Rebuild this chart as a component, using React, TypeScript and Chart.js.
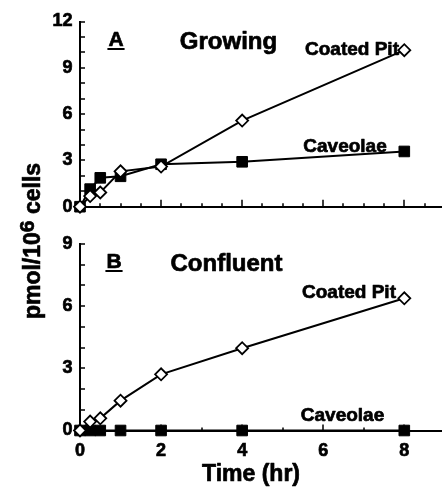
import React, { useEffect, useRef } from 'react';
import { Chart, registerables } from 'chart.js';

Chart.register(...registerables);

const FONT = "'Liberation Sans', Arial, Helvetica, sans-serif";

// ---- data ----
const times = [0, 0.25, 0.5, 1, 2, 4, 8];
const coatedPitGrowing = [0, 0.69, 0.92, 2.29, 2.6, 5.58, 10.14];
const caveolaeGrowing = [0, 1.14, 1.87, 1.97, 2.75, 2.91, 3.58];
const coatedPitConfluent = [0, 0.43, 0.59, 1.44, 2.71, 3.97, 6.38];
const caveolaeConfluent = [0, 0, 0, 0, 0, 0, 0];
const xTickLabels = [0, 2, 4, 6, 8];
const yTickLabelsGrowing = [0, 3, 6, 9, 12];
const yTickLabelsConfluent = [0, 3, 6, 9];

const X_MAX = 8.93;

type TextItem = { text: string; x: number; y: number; size: number; underline?: boolean };

function textPlugin(items: TextItem[]) {
  return {
    id: 'panelText',
    afterDraw(chart: any) {
      const ctx = chart.ctx;
      ctx.save();
      ctx.fillStyle = '#000';
      ctx.strokeStyle = '#000';
      ctx.lineWidth = 0.7;
      ctx.lineJoin = 'round';
      ctx.textAlign = 'center';
      ctx.textBaseline = 'alphabetic';
      for (const t of items) {
        ctx.font = `bold ${t.size}px ${FONT}`;
        ctx.fillText(t.text, t.x, t.y);
        ctx.strokeText(t.text, t.x, t.y);
        if (t.underline) {
          const w = ctx.measureText(t.text).width;
          ctx.fillRect(t.x - w / 2 - 1, t.y + 2, w + 2, 2);
        }
      }
      ctx.restore();
    },
  };
}

function tickMarkPlugin(majorLen: number, minorLen: number, yLen: number) {
  return {
    id: 'tickMarks',
    beforeDatasetsDraw(chart: any) {
      const { ctx, chartArea, scales } = chart;
      ctx.save();
      ctx.strokeStyle = '#000';
      ctx.lineWidth = 1.5;
      ctx.beginPath();
      for (const t of scales.x.ticks) {
        if (t.value === 0) continue;
        const px = Math.round(scales.x.getPixelForValue(t.value));
        const len = xTickLabels.includes(t.value) ? majorLen : minorLen;
        ctx.moveTo(px, chartArea.bottom);
        ctx.lineTo(px, chartArea.bottom - len);
      }
      for (const t of scales.y.ticks) {
        if (t.value === 0) continue;
        const py = Math.round(scales.y.getPixelForValue(t.value));
        ctx.moveTo(chartArea.left, py);
        ctx.lineTo(chartArea.left + yLen, py);
      }
      ctx.stroke();
      ctx.restore();
    },
  };
}

function makeDatasets(coated: number[], cav: number[]) {
  return [
    {
      label: 'Coated Pit',
      data: times.map((t, i) => ({ x: t, y: coated[i] })),
      borderColor: '#000',
      borderWidth: 2,
      pointStyle: 'rectRot',
      pointRadius: 6,
      pointBorderWidth: 1.8,
      pointBackgroundColor: '#fff',
      pointBorderColor: '#000',
      clip: false,
    },
    {
      label: 'Caveolae',
      data: times.map((t, i) => ({ x: t, y: cav[i] })),
      borderColor: '#000',
      borderWidth: 2,
      pointStyle: 'rect',
      pointRadius: 7.5,
      pointBorderWidth: 1,
      pointBackgroundColor: '#000',
      pointBorderColor: '#000',
      clip: false,
    },
  ];
}

function makeChart(
  canvas: HTMLCanvasElement,
  coated: number[],
  cav: number[],
  yMax: number,
  yLabels: number[],
  xStep: number,
  showX: boolean,
  topPad: number,
  xAxisHeight: number,
  texts: TextItem[],
  majorLen: number,
  minorLen: number
) {
  const tickFont = { family: FONT, size: 18, weight: 'bold' };
  return new Chart(canvas, {
    type: 'line',
    data: { datasets: makeDatasets(coated, cav) as any },
    options: {
      animation: false,
      responsive: false,
      devicePixelRatio: 1,
      layout: { autoPadding: false, padding: { top: topPad, left: 0, right: 0, bottom: 0 } },
      plugins: { legend: { display: false }, tooltip: { enabled: false } },
      scales: {
        x: {
          type: 'linear',
          min: 0,
          max: X_MAX,
          grid: { display: false, drawTicks: false },
          border: { display: true, color: '#000', width: 2 },
          ticks: {
            display: showX,
            stepSize: xStep,
            includeBounds: false,
            autoSkip: false,
            maxRotation: 0,
            padding: 10,
            color: '#000',
            textStrokeColor: '#000',
            textStrokeWidth: 0.7,
            font: tickFont,
            callback: (v: any) => (xTickLabels.includes(Number(v)) ? String(v) : ''),
          },
          afterFit: (s: any) => {
            s.height = xAxisHeight;
          },
        },
        y: {
          type: 'linear',
          min: 0,
          max: yMax,
          grid: { display: false, drawTicks: false },
          border: { display: true, color: '#000', width: 2 },
          ticks: {
            stepSize: 1,
            includeBounds: false,
            autoSkip: false,
            padding: 7.5,
            color: '#000',
            textStrokeColor: '#000',
            textStrokeWidth: 0.7,
            font: tickFont,
            callback: (v: any) => (yLabels.includes(Number(v)) ? String(v) : ''),
          },
          afterFit: (s: any) => {
            s.width = 80;
          },
        },
      },
    } as any,
    plugins: [tickMarkPlugin(majorLen, minorLen, 5), textPlugin(texts)],
  });
}

export default function App() {
  const topRef = useRef<HTMLCanvasElement | null>(null);
  const botRef = useRef<HTMLCanvasElement | null>(null);

  useEffect(() => {
    if (!topRef.current || !botRef.current) return;
    const a = makeChart(
      topRef.current,
      coatedPitGrowing,
      caveolaeGrowing,
      12,
      yTickLabelsGrowing,
      0.5,
      false,
      21.5,
      11.7,
      [
        { text: 'A', x: 116, y: 46, size: 21, underline: true },
        { text: 'Growing', x: 228.5, y: 49, size: 24 },
        { text: 'Coated Pit', x: 352, y: 55, size: 19 },
        { text: 'Caveolae', x: 345, y: 151.5, size: 19 },
      ],
      7,
      3.5
    );
    const b = makeChart(
      botRef.current,
      coatedPitConfluent,
      caveolaeConfluent,
      9,
      yTickLabelsConfluent,
      1,
      true,
      19,
      56.5,
      [
        { text: 'B', x: 114, y: 43, size: 21, underline: true },
        { text: 'Confluent', x: 226.5, y: 46, size: 24 },
        { text: 'Coated Pit', x: 349, y: 73, size: 19 },
        { text: 'Caveolae', x: 342.5, y: 195.5, size: 19 },
        { text: 'Time (hr)', x: 251, y: 255.7, size: 23 },
      ],
      6,
      3
    );
    return () => {
      a.destroy();
      b.destroy();
    };
  }, []);

  return (
    <div
      style={{
        position: 'absolute',
        left: 0,
        top: 0,
        width: 442,
        height: 487,
        background: '#fff',
        overflow: 'hidden',
      }}
    >
      <canvas
        ref={topRef}
        width={442}
        height={225}
        style={{ position: 'absolute', left: 0, top: 0, width: 442, height: 225 }}
      />
      <canvas
        ref={botRef}
        width={442}
        height={262}
        style={{ position: 'absolute', left: 0, top: 225, width: 442, height: 262 }}
      />
      <div
        style={{
          position: 'absolute',
          left: 34 - 110,
          top: 241 - 15,
          width: 220,
          height: 30,
          lineHeight: '30px',
          textAlign: 'center',
          whiteSpace: 'nowrap',
          transform: 'rotate(-90deg)',
          font: `bold 23px ${FONT}`,
          color: '#000',
          WebkitTextStroke: '0.7px #000',
        }}
      >
        pmol/10
        <span style={{ fontSize: 21, verticalAlign: 6, lineHeight: 0 }}>6</span> cells
      </div>
    </div>
  );
}
